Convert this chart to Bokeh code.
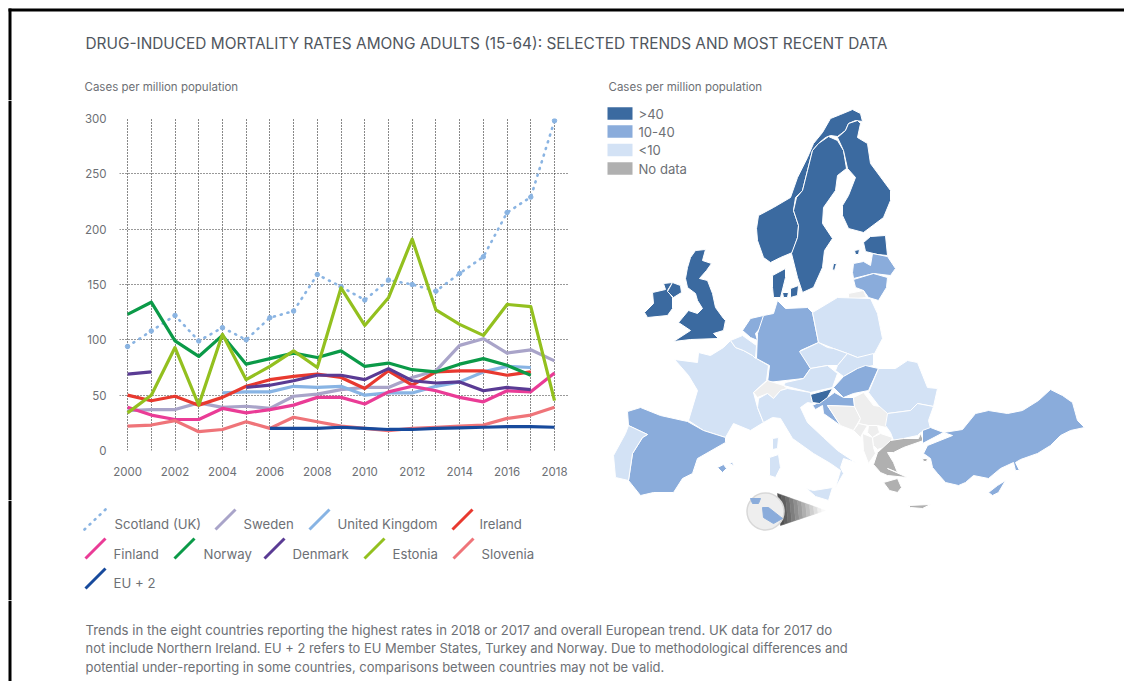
from bokeh.plotting import figure
from bokeh.layouts import column, row
from bokeh.models import Range1d, FixedTicker, BoxAnnotation
from bokeh.core.properties import value
from bokeh.embed import file_html
from bokeh.resources import INLINE

nan = float("nan")
years = list(range(2000, 2019))
scotland = [94, 108, 122, 99, 111, 100, 120, 126, 159, 148, 136, 154, 150, 144, 160, 175, 215, 229, 298]
sweden = [36, 37, 37, 43, 39, 40, 38, 49, 51, 55, 57, 57, 66, 72, 95, 101, 88, 91, 81]
uk = [nan, nan, nan, nan, 52, 53, 53, 58, 57, 58, 50, 52, 52, 58, 62, 71, 76, 75, nan]
ireland = [50, 45, 49, 41, 48, 58, 64, 67, 69, 66, 56, 72, 59, 71, 72, 72, 68, 71, nan]
finland = [39, 32, 28, 28, 38, 34, 37, 41, 48, 48, 42, 53, 58, 54, 48, 44, 54, 53, 70]
norway = [123, 134, 99, 85, 104, 78, 83, 88, 84, 90, 76, 79, 73, 71, 78, 83, 77, 68, nan]
denmark = [69, 71, nan, nan, nan, 57, 59, 63, 68, 68, 64, 74, 63, 61, 62, 54, 57, 55, nan]
estonia = [34, 50, 93, 41, 105, 64, 76, 90, 75, 147, 113, 138, 191, 127, 114, 104, 132, 130, 45]
slovenia = [22, 23, 27, 17, 19, 26, 20, 30, 26, 22, 20, 18, 20, 21, 22, 23, 29, 32, 39]
eu2 = [nan, nan, nan, nan, nan, nan, 20, 20, 20, 21, 20, 19, 19, 20, 20.5, 21, 21.5, 21.5, 21]

series_names = ["Scotland (UK)", "Sweden", "United Kingdom", "Ireland", "Finland",
                "Norway", "Denmark", "Estonia", "Slovenia", "EU + 2"]
series_values = [scotland, sweden, uk, ireland, finland, norway, denmark, estonia, slovenia, eu2]
series_colors = ["#8ab4e2", "#a9a4c9", "#88b4e4", "#e8392f", "#ea3c96",
                 "#0b9a48", "#5a3b94", "#93c01f", "#ef7479", "#174a9c"]

y_ticks = [0, 50, 100, 150, 200, 250, 300]
x_ticks = list(range(2000, 2019, 2))

title_text = "DRUG-INDUCED MORTALITY RATES AMONG ADULTS (15-64): SELECTED TRENDS AND MOST RECENT DATA"
unit_text = "Cases per million population"
note_lines = [
    "Trends in the eight countries reporting the highest rates in 2018 or 2017 and overall European trend. UK data for 2017 do",
    "not include Northern Ireland. EU + 2 refers to EU Member States, Turkey and Norway. Due to methodological differences and",
    "potential under-reporting in some countries, comparisons between countries may not be valid.",
]

DARK, MID, LIGHT, NODATA, PALE = "#3b6aa0", "#8aacdb", "#d3e2f5", "#b0b0b0", "#eeeeee"
map_legend_labels = [">40", "10-40", "<10", "No data"]
map_legend_colors = [DARK, MID, LIGHT, NODATA]

# Map outlines (map-sheet coordinates)
regions = [
 (DARK, [(852,109),(860,113),(862,121),(855,120),(848,123),(845,130),(837,136),(830,135),(825,137),(818,143),(812,150),(807,170),(802,190),(795,197),(793,210),(798,225),(797,237),(792,252),(780,257),(770,262),(763,257),(757,240),(756,228),(758,215),(773,207),(790,197),(797,177),(807,157),(813,143),(822,132),(830,118),(840,114)]),
 (DARK, [(828,136),(837,140),(843,150),(846,168),(837,175),(835,190),(823,207),(822,223),(832,238),(824,250),(822,267),(813,287),(802,292),(797,277),(791,253),(797,237),(798,225),(793,210),(796,197),(802,190),(807,170),(812,150),(818,143)]),
 (DARK, [(848,123),(857,120),(860,123),(857,137),(867,143),(870,163),(890,190),(890,200),(883,217),(863,232),(848,228),(842,215),(842,205),(848,195),(855,177),(847,168),(843,150),(837,137),(845,130)]),
 (DARK, [(863,242),(870,236),(885,235),(887,255),(877,254),(865,251)]),
 (MID, [(853,263),(863,261),(870,265),(872,253),(887,256),(895,268),(890,275),(873,273),(853,278),(852,272)]),
 (MID, [(853,279),(873,273),(887,277),(886,287),(878,300),(868,297),(863,290),(855,287)]),
 (PALE, [(848,293),(863,290),(866,297),(848,299)]),
 (DARK, [(854,250),(859,249),(858,254),(855,254)]),
 (DARK, [(833,263),(836,263),(834,270),(832,269)]),
 (DARK, [(772,275),(785,268),(785,277),(780,297),(773,297),(772,287)]),
 (DARK, [(782,292),(788,292),(787,297),(783,297)]),
 (DARK, [(790,288),(798,285),(797,295),(790,297)]),
 (DARK, [(652,292),(665,289),(663,283),(672,282),(667,290),(672,297),(672,308),(667,315),(647,317),(644,312),(653,303)]),
 (DARK, [(672,282),(680,285),(681,292),(673,297),(667,291)]),
 (DARK, [(690,257),(695,250),(705,249),(702,260),(711,263),(706,270),(699,278),(707,280),(712,293),(715,307),(723,318),(725,320),(723,330),(713,333),(718,338),(690,339),(673,341),(690,330),(678,322),(688,310),(697,313),(702,308),(697,300),(695,293),(687,287),(685,278),(687,267)]),
 (LIGHT, [(674,359),(697,362),(698,352),(710,355),(723,347),(730,340),(735,347),(743,350),(752,355),(756,358),(768,365),(766,380),(753,392),(757,407),(763,422),(750,430),(733,423),(725,437),(703,430),(688,420),(697,390),(688,375)]),
 (LIGHT, [(730,340),(742,335),(756,345),(755,358),(752,355),(743,350),(735,347)]),
 (MID, [(742,330),(750,318),(763,315),(762,325),(755,333),(757,340),(750,337)]),
 (MID, [(777,300),(785,308),(807,307),(812,312),(818,342),(800,350),(810,368),(803,378),(767,382),(769,365),(756,358),(757,333),(763,315),(773,313)]),
 (LIGHT, [(812,312),(837,297),(870,298),(877,313),(882,338),(873,355),(857,357),(847,353),(833,348),(818,342)]),
 (LIGHT, [(799,351),(818,342),(827,347),(833,348),(847,353),(837,365),(827,365),(810,368)]),
 (LIGHT, [(847,353),(857,357),(873,353),(873,365),(857,368),(843,376),(835,370),(837,365)]),
 (LIGHT, [(785,382),(803,378),(810,368),(827,365),(837,373),(832,387),(810,392),(783,385)]),
 (MID, [(833,387),(843,376),(857,368),(865,365),(878,368),(868,390),(853,393),(843,397)]),
 (PALE, [(753,392),(767,380),(783,385),(787,388),(780,390),(773,398),(767,393),(757,397)]),
 (LIGHT, [(757,407),(758,398),(767,393),(773,398),(780,390),(787,388),(810,392),(812,403),(807,402),(800,407),(807,422),(823,437),(837,450),(855,462),(843,458),(840,467),(843,473),(835,487),(840,470),(830,463),(813,453),(792,438),(780,418),(772,417),(763,422)]),
 (LIGHT, [(772,438),(778,437),(777,448),(772,449)]),
 (LIGHT, [(769,457),(778,454),(780,467),(775,477),(769,475)]),
 (LIGHT, [(806,488),(813,490),(832,487),(828,500),(815,496)]),
 (MID, [(812,405),(816,403),(827,397),(834,392),(843,397),(853,397),(854,406),(827,405),(840,425),(823,413),(822,405),(815,409)]),
 (DARK, [(810,394),(832,388),(827,397),(819,403),(812,402)]),
 (PALE, [(827,405),(854,406),(860,418),(853,430),(840,425)]),
 (PALE, [(853,397),(863,392),(873,405),(887,407),(890,428),(877,425),(868,425),(858,423),(860,418),(854,406)]),
 (PALE, [(853,430),(858,423),(867,425),(862,433),(860,437)]),
 (PALE, [(868,425),(877,425),(879,432),(872,437),(867,432)]),
 (PALE, [(862,433),(872,437),(873,447),(875,453),(868,463),(863,450)]),
 (PALE, [(872,437),(880,433),(892,437),(889,445),(877,449),(873,445)]),
 (LIGHT, [(868,392),(878,368),(895,368),(907,360),(917,362),(927,387),(937,388),(933,406),(917,403),(910,410),(887,413),(878,405)]),
 (LIGHT, [(887,413),(910,410),(917,403),(933,406),(928,420),(930,428),(920,432),(917,435),(903,438),(893,440),(890,432),(885,425)]),
 (NODATA, [(873,464),(877,452),(890,440),(903,438),(918,438),(920,433),(923,440),(903,447),(893,452),(887,452),(893,462),(897,472),(887,468),(907,477),(887,475),(880,472)]),
 (NODATA, [(883,482),(897,478),(901,487),(897,492),(889,490)]),
 (NODATA, [(908,505),(930,504),(922,508),(910,507)]),
 (NODATA, [(922,458),(927,458),(926,461),(923,461)]),
 (MID, [(1050,389),(1062,395),(1072,402),(1077,420),(1084,427),(1070,430),(1060,435),(1050,445),(1037,453),(1020,459),(1015,462),(1019,470),(1015,470),(1013,462),(1000,468),(988,478),(973,475),(965,482),(958,485),(945,482),(937,473),(932,467),(930,458),(923,453),(927,445),(952,435),(943,432),(962,429),(975,413),(988,410),(1007,413),(1022,410),(1038,400)]),
 (MID, [(922,430),(930,427),(943,432),(922,443)]),
 (MID, [(988,492),(997,485),(1005,480),(998,492),(992,495)]),
 (MID, [(627,411),(640,407),(660,415),(687,421),(703,430),(725,437),(725,442),(697,458),(692,473),(682,478),(673,492),(653,492),(640,495),(628,480),(632,453),(642,437),(647,434),(628,425)]),
 (LIGHT, [(628,425),(647,434),(642,437),(632,453),(628,480),(615,477),(613,455),(625,433)]),
 (MID, [(717,467),(723,464),(726,468),(722,472)]),
 (MID, [(729,463),(732,462),(733,465)]),
]
malta_inset = [
 (MID, [(750,498),(760,498),(758,503),(752,503)]),
 (MID, [(762,507),(768,507),(782,518),(773,523),(763,517)]),
]
cone_tip, cone_top, cone_bottom = (825, 510), (777, 493), (780, 525)
cone_shades = ["#505050", "#5f5f5f", "#6f6f6f", "#7f7f7f", "#8f8f8f", "#9f9f9f",
               "#afafaf", "#bfbfbf", "#cfcfcf", "#dfdfdf", "#efefef", "#f8f8f8"]

TEXT = "#6d7075"
FONT = value("Inter")
W, H1, H2, H3, H4 = 1124, 100, 400, 100, 81
LEFT_W, MAP_W, STRIP_W = 598, 526, 12


def edge_lines(p, h, top_y=0):
    p.add_layout(BoxAnnotation(left=8, right=11, top=top_y, bottom=h, left_units="canvas", right_units="canvas",
                               top_units="canvas", bottom_units="canvas", fill_color="black", fill_alpha=1,
                               line_alpha=0, level="overlay"))
    if top_y:
        p.add_layout(BoxAnnotation(left=8, right=W, top=top_y, bottom=top_y + 3, left_units="canvas",
                                   right_units="canvas", top_units="canvas", bottom_units="canvas",
                                   fill_color="black", fill_alpha=1, line_alpha=0, level="overlay"))


def sheet(x0, x1, y0, y1):
    p = figure(width=x1 - x0, height=y1 - y0, x_range=Range1d(x0, x1), y_range=Range1d(y1, y0),
               output_backend="svg", toolbar_location=None, min_border=0, frame_align=False)
    p.axis.visible = False
    p.grid.visible = False
    p.outline_line_color = None
    return p


def txt(p, x, y, s, size, color=TEXT):
    p.text([x], [y], text=[s], text_font=FONT, text_font_size=size, text_color=color, text_baseline="middle")


# Title sheet
top = sheet(0, W, 0, H1)
txt(top, 85, 42.5, title_text, "15.4px", "#50565e")
txt(top, 84, 86, unit_text, "11.5px")
txt(top, 608, 86, unit_text, "11.5px")
edge_lines(top, H1, top_y=8)

# Strip carrying the frame line beside the chart
strip = sheet(0, STRIP_W, H1, H1 + H2)
edge_lines(strip, H2)

# Line chart
ch = figure(width=LEFT_W - STRIP_W, height=H2, x_range=Range1d(1999.66, 2018.59), y_range=Range1d(0, 300),
            output_backend="svg", toolbar_location=None, min_border_left=119 - STRIP_W, min_border_right=30,
            min_border_top=18, min_border_bottom=50, frame_align=False)
ch.outline_line_color = None
ch.xaxis.ticker = FixedTicker(ticks=x_ticks)
ch.yaxis.ticker = FixedTicker(ticks=y_ticks)
ch.xgrid.ticker = FixedTicker(ticks=years)
for ax in (ch.xaxis[0], ch.yaxis[0]):
    ax.axis_line_color = None
    ax.major_tick_line_color = None
    ax.minor_tick_line_color = None
    ax.major_label_text_font = "Inter"
    ax.major_label_text_font_size = "11.5px"
    ax.major_label_text_color = TEXT
ch.xaxis.major_label_standoff = 10
ch.yaxis.major_label_standoff = 7
for g, c, d in ((ch.xgrid[0], "#111111", "1 2"), (ch.ygrid[0], "#333333", "1 2")):
    g.grid_line_color = c
    g.grid_line_dash = d
    g.grid_line_width = 1
for name, vals, color in zip(series_names, series_values, series_colors):
    if name == series_names[0]:
        ch.line(years, vals, line_color=color, line_width=2.6, line_dash="1 6", line_cap="round")
        ch.scatter(years, vals, size=4.5, color=color)
    else:
        ch.line(years, vals, line_color=color, line_width=3.2, line_join="round")

# Line legend
leg = sheet(0, LEFT_W, 500, 500 + H3)
leg_x = [84, 215, 309, 452, 85, 174, 264, 364, 453, 85]
leg_tx = [114, 243, 337, 479, 113, 203, 292, 392, 481, 113]
leg_y = [529, 529, 529, 529, 558, 558, 558, 558, 558, 588]
leg_ty = [523, 523, 523, 523, 553, 553, 553, 553, 553, 582]
for i, name in enumerate(series_names):
    if i == 0:
        leg.line([leg_x[i], leg_x[i] + 21], [leg_y[i], leg_y[i] - 20], line_color=series_colors[i],
                 line_width=2.6, line_dash="1 6", line_cap="round")
    else:
        leg.line([leg_x[i], leg_x[i] + 20], [leg_y[i], leg_y[i] - 20], line_color=series_colors[i], line_width=3)
    txt(leg, leg_tx[i], leg_ty[i], name, "13.2px")
edge_lines(leg, H3)

# Map
mp = sheet(LEFT_W, W, H1, H1 + H2 + H3)
for (color, pts) in regions:
    mp.patch([q[0] for q in pts], [q[1] for q in pts], fill_color=color, line_color="white", line_width=1)
n = len(cone_shades)
for i, shade in enumerate(cone_shades):
    a, b = i / n, (i + 1) / n
    xs, ys = [], []
    for t in (a, b):
        xs.append(cone_top[0] + (cone_tip[0] - cone_top[0]) * t)
        ys.append(cone_top[1] + (cone_tip[1] - cone_top[1]) * t)
    for t in (b, a):
        xs.append(cone_bottom[0] + (cone_tip[0] - cone_bottom[0]) * t)
        ys.append(cone_bottom[1] + (cone_tip[1] - cone_bottom[1]) * t)
    mp.patch(xs, ys, fill_color=shade, line_color=shade, line_width=0.5)
mp.scatter([765], [511], size=37, fill_color="#eeeeee", line_color="#d8d8d8", line_width=1.5)
for (color, pts) in malta_inset:
    mp.patch([q[0] for q in pts], [q[1] for q in pts], fill_color=color, line_color=color)
sw_y = [113, 131, 149.5, 168]
for lab, col, y in zip(map_legend_labels, map_legend_colors, sw_y):
    mp.rect([619.5], [y], width=25, height=12.5, fill_color=col, line_color=None)
    txt(mp, 638, y, lab, "13.1px")

# Note
note = sheet(0, W, 600, 600 + H4)
for y, s, size in zip([629.5, 647.5, 666], note_lines, ["13.2px", "12.95px", "12.97px"]):
    txt(note, 85, y, s, size)
edge_lines(note, H4)

page = column(top, row(column(row(strip, ch), leg), mp), note)
open("out.html", "w").write(file_html(page, INLINE))
